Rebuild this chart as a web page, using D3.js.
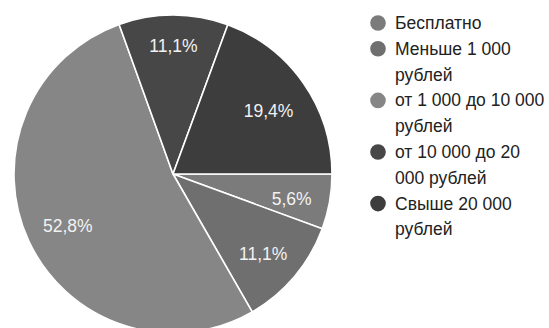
<!DOCTYPE html>
<html>
<head>
<meta charset="utf-8">
<script src="https://cdn.jsdelivr.net/npm/d3@7"></script>
<style>
  html, body { margin: 0; padding: 0; background: #ffffff; }
  svg { display: block; }
</style>
</head>
<body>
<svg id="chart" width="549" height="328"></svg>
<script>
// ---- data ----
const categories = ["Бесплатно", "Меньше 1 000 рублей", "от 1 000 до 10 000 рублей", "от 10 000 до 20 000 рублей", "Свыше 20 000 рублей"];
const values = [5.6, 11.1, 52.8, 11.1, 19.4];
const colors = ["#7b7b7b", "#6f6f6f", "#868686", "#474747", "#3d3d3d"];

// ---- layout ----
const W = 549, H = 328;
const cx = 173, cy = 174, R = 159;
const fontFamily = "'Liberation Sans', Arial, sans-serif";
const fontSize = 17.5;

const svg = d3.select("#chart");

const pie = d3.pie().sort(null).value(d => d)
  .startAngle(Math.PI / 2).endAngle(Math.PI / 2 + 2 * Math.PI);
const arcs = pie(values);
const arc = d3.arc().innerRadius(0).outerRadius(R);

const g = svg.append("g").attr("transform", `translate(${cx},${cy})`);

g.selectAll("path.slice")
  .data(arcs)
  .join("path")
  .attr("class", "slice")
  .attr("d", arc)
  .attr("fill", (d, i) => colors[i])
  .attr("stroke", "#ffffff")
  .attr("stroke-width", 1.6)
  .attr("stroke-linejoin", "round");

// labels: place text box along mid-angle so its outer corner sits at ~0.89R
const fmt = v => d3.format(".1f")(v).replace(".", ",") + "%";
const labels = g.selectAll("text.lbl")
  .data(arcs)
  .join("text")
  .attr("class", "lbl")
  .attr("font-family", fontFamily)
  .attr("font-size", fontSize)
  .attr("fill", "#f2f2f2")
  .attr("text-anchor", "middle")
  .attr("dominant-baseline", "central")
  .attr("dy", "0.2em")
  .text(d => fmt(d.data));

labels.each(function(d) {
  const bb = this.getBBox();
  const hw = bb.width / 2, hh = fontSize * 0.45;
  const a = (d.startAngle + d.endAngle) / 2;
  const ux = Math.sin(a), uy = -Math.cos(a);
  const target = 0.89 * R;
  let r = 0;
  for (let t = 0; t < R; t += 0.5) {
    const fx = t * ux + Math.sign(ux || 1) * hw;
    const fy = t * uy + Math.sign(uy || 1) * hh;
    if (Math.hypot(fx, fy) >= target) { r = t; break; }
  }
  d3.select(this).attr("x", r * ux).attr("y", r * uy);
});

// ---- legend ----
const legendX = 378, textX = 395, firstY = 23, lineH = 25.8, maxW = 158;
const measure = svg.append("text")
  .attr("font-family", fontFamily).attr("font-size", fontSize)
  .attr("visibility", "hidden");
function wrap(str) {
  const words = str.split(" ");
  const lines = [];
  let cur = "";
  for (const w of words) {
    const test = cur ? cur + " " + w : w;
    measure.text(test);
    if (cur && measure.node().getComputedTextLength() > maxW) {
      lines.push(cur); cur = w;
    } else cur = test;
  }
  if (cur) lines.push(cur);
  return lines;
}

let y = firstY;
const legend = svg.append("g");
categories.forEach((c, i) => {
  const lines = wrap(c);
  legend.append("circle")
    .attr("cx", legendX).attr("cy", y).attr("r", 7.8)
    .attr("fill", colors[i]);
  const t = legend.append("text")
    .attr("font-family", fontFamily)
    .attr("font-size", fontSize)
    .attr("fill", "#222222")
    .attr("dominant-baseline", "central");
  lines.forEach((ln, k) => {
    t.append("tspan").attr("x", textX).attr("y", y + k * lineH).text(ln);
  });
  y += lines.length * lineH;
});
measure.remove();
</script>
</body>
</html>
